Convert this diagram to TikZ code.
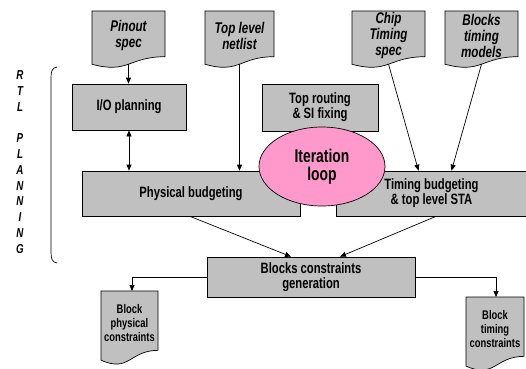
\documentclass[tikz,border=0pt]{standalone}
\usepackage{fontspec}
\setmainfont{Liberation Sans}[FakeStretch=0.75]
\usetikzlibrary{arrows.meta,shapes.geometric}

\definecolor{boxgray}{RGB}{192,192,192}
\definecolor{looppink}{RGB}{255,153,204}

% name, text style, left, top, width, height, text
\newcommand{\docshape}[7]{%
  \filldraw[docline] (#3,#4) -- ({#3+#5},#4) -- ({#3+#5},{#4+0.802*#6})
    .. controls ({#3+0.5*#5},{#4+0.802*#6}) and ({#3+0.5*#5},{#4+1.1075*#6}) .. (#3,{#4+0.934*#6}) -- cycle;
  \node[#2, minimum width=#5, minimum height={0.85*#6}, anchor=north] (#1) at ({#3+0.5*#5},#4) {#7};
  \coordinate (#1-b) at ({#3+0.5*#5},{#4+0.933*#6});
}

\begin{document}
\begin{tikzpicture}[x=1pt, y=-1pt, line width=0.7pt,
    box/.style={draw, fill=boxgray, inner sep=0pt, align=center, font=\fontsize{15}{15}\selectfont\bfseries},
    docline/.style={draw, fill=boxgray},
    doctitle/.style={inner sep=0pt, align=center, font=\fontsize{15.5}{16}\selectfont\bfseries\itshape},
    docsmall/.style={inner sep=0pt, align=center, font=\fontsize{12.5}{14}\selectfont\bfseries},
    flow/.style={-{Triangle[length=6pt,width=5pt]}},
    twoway/.style={{Triangle[length=6pt,width=5pt]}-{Triangle[length=6pt,width=5pt]}}]
        \useasboundingbox (0,0) rectangle (526,368);

        \node[box, minimum width=114, minimum height=46] (io) at (129,107) {I/O planning};
        \node[box, minimum width=116, minimum height=47] (route) at (320,107.5) {Top routing\\\& SI fixing};
        \node[box, minimum width=218, minimum height=45] (phys) at (191,193.5) {Physical budgeting};
        \node[box, minimum width=191, minimum height=45] (timing) at (431.5,193.5) {Timing budgeting\\\& top level STA};
        \node[box, minimum width=208, minimum height=40] (bcg) at (311,277) {Blocks constraints\\generation};

        \docshape{pinout}{doctitle}{92}{11}{73}{57}{Pinout\\spec}
        \docshape{netlist}{doctitle}{205}{11}{69}{57}{Top level\\netlist}
        \docshape{chipspec}{doctitle}{352}{11}{73}{57}{Chip\\Timing\\spec}
        \docshape{blkmodels}{doctitle}{445}{11}{73}{57}{Blocks\\timing\\models}
        \docshape{bphys}{docsmall}{101}{291}{57}{74}{Block\\physical\\constraints}
        \docshape{btim}{docsmall}{466}{297}{58}{74}{Block\\timing\\constraints}

        \draw[flow] (pinout-b) -- (pinout-b |- io.north);
        \draw[twoway] (io.south) -- (io.south |- phys.north);
        \draw[flow] (netlist-b) -- (netlist-b |- phys.north);
        \draw[flow] (chipspec-b) -- ([xshift=-13pt]timing.north);
        \draw[flow] (blkmodels-b) -- ([xshift=20pt]timing.north);
        \draw[flow] ([xshift=-1pt]phys.south) -- ([xshift=-20pt]bcg.north);
        \draw[flow] ([xshift=4.5pt]timing.south) -- ([xshift=29pt]bcg.north);
        \draw[flow] (bcg.west) -| ([xshift=2.5pt]bphys.north);
        \draw[flow] (bcg.east) -| ([xshift=1pt]btim.north);

        \node[draw, ellipse, fill=looppink, inner sep=0pt, minimum width=126, minimum height=79,
              align=center, font=\fontsize{18.5}{18}\selectfont\bfseries] (loop) at (322,166.5) {Iteration\\loop};

        \draw (57,67) .. controls (52,68) and (51,71) .. (51,78) -- (51,252) .. controls (51,259) and (52,262) .. (57,263);
        \node[align=center, inner sep=0pt, font=\fontsize{13}{15.8}\selectfont\bfseries\itshape] (rtl) at (20,162)
            {R\\T\\L\\\mbox{}\\P\\L\\A\\N\\N\\I\\N\\G};
\end{tikzpicture}
\end{document}
